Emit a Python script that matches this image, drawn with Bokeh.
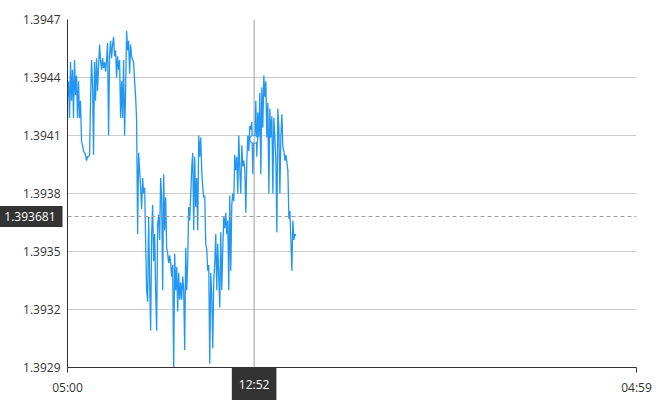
import pandas as pd
from bokeh.plotting import figure
from bokeh.models import (Range1d, FixedTicker, DatetimeTickFormatter, PrintfTickFormatter,
                          Span, Label, ColumnDataSource)
from bokeh.embed import file_html
from bokeh.resources import INLINE

# ---- data ----
start_time = "2024-01-15 05:00"
end_time = "2024-01-16 04:59"
step_seconds = 152
prices = [
    1.39430, 1.39438, 1.39419, 1.39448, 1.39428, 1.39444, 1.39419, 1.39449, 1.39431, 1.39441,
    1.39419, 1.39438, 1.39419, 1.39428, 1.39407, 1.39405, 1.39402, 1.39401, 1.39400, 1.39397,
    1.39399, 1.39399, 1.39400, 1.39428, 1.39449, 1.39436, 1.39400, 1.39448, 1.39428, 1.39450,
    1.39433, 1.39446, 1.39457, 1.39449, 1.39444, 1.39450, 1.39445, 1.39448, 1.39443, 1.39449,
    1.39458, 1.39410, 1.39451, 1.39459, 1.39450, 1.39457, 1.39461, 1.39451, 1.39454, 1.39440,
    1.39451, 1.39444, 1.39449, 1.39419, 1.39438, 1.39419, 1.39449, 1.39410, 1.39433, 1.39464,
    1.39454, 1.39459, 1.39442, 1.39457, 1.39451, 1.39449, 1.39448, 1.39438, 1.39430, 1.39418,
    1.39359, 1.39401, 1.39392, 1.39383, 1.39372, 1.39388, 1.39380, 1.39383, 1.39356, 1.39330,
    1.39324, 1.39368, 1.39335, 1.39309, 1.39359, 1.39374, 1.39345, 1.39359, 1.39330, 1.39309,
    1.39364, 1.39369, 1.39356, 1.39388, 1.39378, 1.39330, 1.39390, 1.39361, 1.39378, 1.39352,
    1.39349, 1.39344, 1.39348, 1.39344, 1.39337, 1.39343, 1.39289, 1.39349, 1.39330, 1.39342,
    1.39319, 1.39339, 1.39325, 1.39334, 1.39325, 1.39337, 1.39330, 1.39299, 1.39352, 1.39330,
    1.39345, 1.39373, 1.39366, 1.39379, 1.39393, 1.39401, 1.39361, 1.39399, 1.39373, 1.39388,
    1.39361, 1.39410, 1.39399, 1.39409, 1.39392, 1.39383, 1.39378, 1.39379, 1.39354, 1.39351,
    1.39340, 1.39343, 1.39292, 1.39339, 1.39328, 1.39300, 1.39335, 1.39344, 1.39359, 1.39330,
    1.39354, 1.39337, 1.39321, 1.39360, 1.39330, 1.39351, 1.39368, 1.39362, 1.39370, 1.39359,
    1.39366, 1.39330, 1.39379, 1.39340, 1.39374, 1.39380, 1.39376, 1.39400, 1.39392, 1.39399,
    1.39380, 1.39410, 1.39392, 1.39380, 1.39405, 1.39394, 1.39397, 1.39392, 1.39370, 1.39397,
    1.39410, 1.39402, 1.39415, 1.39413, 1.39417, 1.39390, 1.39408, 1.39409, 1.39428, 1.39399,
    1.39422, 1.39409, 1.39432, 1.39390, 1.39435, 1.39414, 1.39441, 1.39430, 1.39438, 1.39409,
    1.39427, 1.39380, 1.39424, 1.39409, 1.39420, 1.39380, 1.39419, 1.39409, 1.39397, 1.39360,
    1.39424, 1.39414, 1.39380, 1.39409, 1.39421, 1.39404, 1.39402, 1.39397, 1.39400, 1.39396,
    1.39392, 1.39367, 1.39371, 1.39356, 1.39340, 1.39366, 1.39356, 1.39359, 1.39358,
]
y_ticks = [1.3929, 1.3932, 1.3935, 1.3938, 1.3941, 1.3944, 1.3947]
cross_time = "2024-01-15 12:52"
cross_price = 1.393681
cross_time_label = "12:52"
cross_price_label = "1.393681"

# ---- build ----
times = pd.date_range(start_time, periods=len(prices), freq=f"{step_seconds}s")
src = ColumnDataSource(dict(t=times, p=prices))

t0 = pd.Timestamp(start_time)
t1 = pd.Timestamp(end_time)
t0_ms = t0.value // 10**6
t1_ms = t1.value // 10**6
tc = pd.Timestamp(cross_time)
tc_ms = tc.value // 10**6

FONT = "Open Sans"
BLUE = "#2196F3"
DARK = "#333333"

p = figure(width=670, height=400, x_axis_type="datetime",
           x_range=Range1d(t0_ms, t1_ms), y_range=Range1d(y_ticks[0], y_ticks[-1]),
           output_backend="svg", toolbar_location=None,
           min_border_left=67, min_border_right=34, min_border_top=19, min_border_bottom=33)
p.outline_line_color = None
p.background_fill_color = "white"
p.border_fill_color = "white"
p.title.visible = False

p.xgrid.visible = False
p.ygrid.grid_line_color = "#cccccc"
p.ygrid.grid_line_width = 1

# y axis
p.yaxis.ticker = FixedTicker(ticks=y_ticks)
p.yaxis.formatter = PrintfTickFormatter(format="%.4f")
p.yaxis.major_tick_out = 0
p.yaxis.major_tick_in = 0
p.yaxis.minor_tick_out = 0
p.yaxis.minor_tick_in = 0
p.yaxis.axis_line_color = DARK
p.yaxis.major_label_standoff = 7
p.yaxis.major_label_text_font = FONT
p.yaxis.major_label_text_font_size = "12px"
p.yaxis.major_label_text_color = DARK

# x axis
fmt = "%H:%M"
p.xaxis.ticker = FixedTicker(ticks=[t0_ms, t1_ms])
p.xaxis.formatter = DatetimeTickFormatter(
    microseconds=fmt, milliseconds=fmt, seconds=fmt, minsec=fmt, minutes=fmt,
    hourmin=fmt, hours=fmt, days=fmt, months=fmt, years=fmt)
p.xaxis.major_tick_out = 5
p.xaxis.major_tick_in = 0
p.xaxis.minor_tick_out = 0
p.xaxis.minor_tick_in = 0
p.xaxis.axis_line_color = DARK
p.xaxis.major_tick_line_color = DARK
p.xaxis.major_label_standoff = 6
p.xaxis.major_label_text_font = FONT
p.xaxis.major_label_text_font_size = "12px"
p.xaxis.major_label_text_color = DARK

# series
p.line("t", "p", source=src, line_color=BLUE, line_width=1.3)

# crosshair
p.add_layout(Span(location=tc_ms, dimension="height", line_color="#9e9e9e", line_width=1))
p.add_layout(Span(location=cross_price, dimension="width", line_color="#9e9e9e",
                  line_width=1, line_dash="4 3"))

# hover marker on the series at the crosshair time
idx = int(abs(times - tc).values.argmin())
p.scatter([times[idx]], [prices[idx]], size=8, fill_color="white", line_color=BLUE, line_width=1.2)

# crosshair labels: kept in side panels (small reported size) so they are not clipped
p.add_layout(Label(x=t0_ms, y=cross_price, x_offset=-9, text=cross_price_label,
                   text_align="right", text_baseline="middle",
                   text_color="white", text_font=FONT, text_font_size="12px",
                   background_fill_color=DARK, border_line_color=DARK, border_line_width=8,
                   border_line_join="miter", padding=dict(x=3, y=2)), "above")
p.add_layout(Label(x=tc_ms, y=y_ticks[0], y_offset=-6, text=cross_time_label,
                   text_align="center", text_baseline="top",
                   text_color="white", text_font=FONT, text_font_size="12px",
                   background_fill_color=DARK, border_line_color=DARK, border_line_width=12,
                   border_line_join="miter", padding=dict(x=1, y=2)), "right")

open("out.html", "w").write(file_html(p, INLINE))
